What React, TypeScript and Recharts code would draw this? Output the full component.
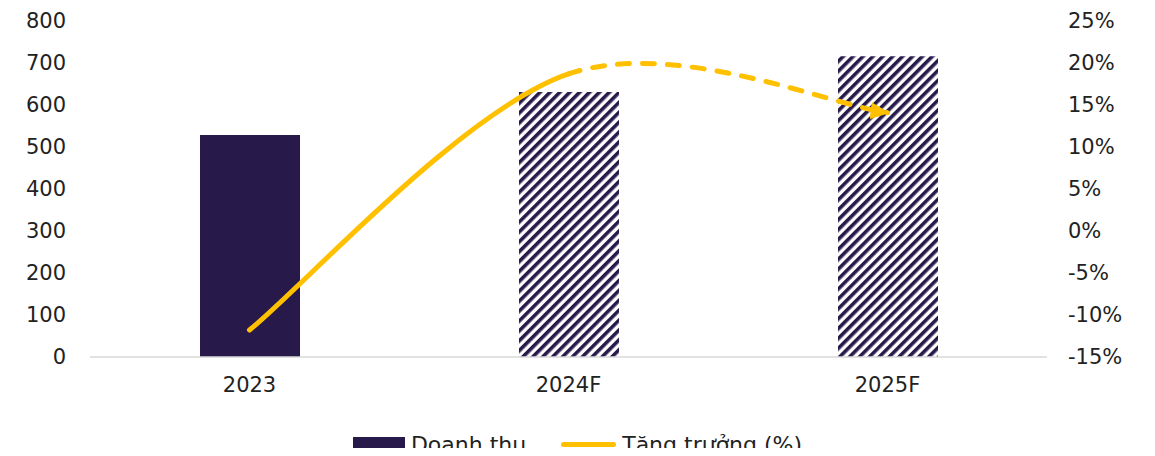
import React from 'react';
import { ComposedChart, Bar, Line, XAxis, YAxis, Legend, Cell } from 'recharts';

const categories = ['2023', '2024F', '2025F'];
const revenue = [527, 629, 714];
const growth = [-11.8, 18.6, 14.0];
const forecast = [false, true, true];

const revenueTicks = [0, 100, 200, 300, 400, 500, 600, 700, 800];
const growthTicks = [-15, -10, -5, 0, 5, 10, 15, 20, 25];

const revenueName = 'Doanh thu';
const growthName = 'Tăng trưởng (%)';

const NAVY = '#271A4A';
const GOLD = '#FFC000';
const FONT = '"DejaVu Sans", sans-serif';

const data = categories.map((c, i) => ({ name: c, revenue: revenue[i], growth: growth[i] }));

// Excel-style smoothed line, but only draws segments [from, to) so that
// the solid part and the dashed part share the same tangents.
const smoothPart = (from: number, to: number) => (context: any) => {
  let pts: [number, number][] = [];
  return {
    areaStart() {},
    areaEnd() {},
    lineStart() {
      pts = [];
    },
    lineEnd() {
      const n = pts.length;
      const get = (i: number) => pts[Math.max(0, Math.min(n - 1, i))];
      for (let i = from; i < to && i + 1 < n; i++) {
        const p0 = get(i - 1);
        const p1 = get(i);
        const p2 = get(i + 1);
        const p3 = get(i + 2);
        if (i === from) context.moveTo(p1[0], p1[1]);
        context.bezierCurveTo(
          p1[0] + (p2[0] - p0[0]) / 6,
          p1[1] + (p2[1] - p0[1]) / 6,
          p2[0] - (p3[0] - p1[0]) / 6,
          p2[1] - (p3[1] - p1[1]) / 6,
          p2[0],
          p2[1]
        );
      }
    },
    point(x: number, y: number) {
      pts.push([+x, +y]);
    },
  };
};

const solidCurve = smoothPart(0, 1);
const dashedCurve = smoothPart(1, 2);

const ChartLegend = () => (
  <div
    style={{
      display: 'flex',
      justifyContent: 'center',
      alignItems: 'center',
      height: 36,
      paddingTop: 12,
      boxSizing: 'border-box',
      fontFamily: FONT,
      fontSize: 22,
      color: '#222',
      whiteSpace: 'nowrap',
    }}
  >
    <span style={{ display: 'inline-block', width: 52, height: 14, background: NAVY, marginRight: 6 }} />
    <span style={{ marginRight: 35 }}>{revenueName}</span>
    <span
      style={{ display: 'inline-block', width: 55, height: 5, borderRadius: 3, background: GOLD, marginRight: 6 }}
    />
    <span>{growthName}</span>
  </div>
);

export default function App() {
  // the legend sits on the lower edge of the page, as in the source image
  return (
    <div style={{ width: 1139, height: 448, marginBottom: -8 }}>
      <ComposedChart width={1139} height={448} data={data} margin={{ top: 12, right: 0, left: 0, bottom: 0 }}>
        <defs>
          <pattern id="hatch" patternUnits="userSpaceOnUse" width="7" height="7" patternTransform="rotate(45)">
            <rect x="0" y="0" width="7" height="7" fill="#ffffff" />
            <rect x="0" y="0" width="3.6" height="7" fill={NAVY} />
          </pattern>
          <marker
            id="arrowHead"
            viewBox="0 0 18 16"
            refX="16"
            refY="8"
            markerWidth="3.8"
            markerHeight="3.4"
            orient="auto"
            markerUnits="strokeWidth"
          >
            <path d="M0,0 L18,8 L0,16 z" fill={GOLD} />
          </marker>
        </defs>
        <XAxis
          dataKey="name"
          height={63}
          axisLine={{ stroke: '#d9d9d9', strokeWidth: 1.5 }}
          tickLine={false}
          tickMargin={14}
          tick={{ fill: '#222', fontSize: 21, fontFamily: FONT }}
        />
        <YAxis
          yAxisId="left"
          width={82}
          domain={[0, 800]}
          ticks={revenueTicks}
          axisLine={false}
          tickLine={false}
          tickMargin={18}
          tick={{ fill: '#222', fontSize: 21, fontFamily: FONT }}
        />
        <YAxis
          yAxisId="right"
          orientation="right"
          width={100}
          domain={[-15, 25]}
          ticks={growthTicks}
          axisLine={false}
          tickLine={false}
          tickMargin={15}
          tickFormatter={(v: number) => `${v}%`}
          tick={{ fill: '#222', fontSize: 21, fontFamily: FONT, textAnchor: 'start' }}
        />
        <Legend verticalAlign="bottom" content={<ChartLegend />} />
        <Bar yAxisId="left" dataKey="revenue" name={revenueName} barSize={100} isAnimationActive={false}>
          {data.map((d, i) => (
            <Cell key={d.name} fill={forecast[i] ? 'url(#hatch)' : NAVY} />
          ))}
        </Bar>
        <Line
          yAxisId="right"
          dataKey="growth"
          name={growthName}
          type={solidCurve as any}
          stroke={GOLD}
          strokeWidth={5}
          strokeLinecap="round"
          dot={false}
          activeDot={false}
          isAnimationActive={false}
        />
        <Line
          yAxisId="right"
          dataKey="growth"
          legendType="none"
          type={dashedCurve as any}
          stroke={GOLD}
          strokeWidth={5}
          strokeLinecap="round"
          strokeDasharray="12 13"
          markerEnd="url(#arrowHead)"
          dot={false}
          activeDot={false}
          isAnimationActive={false}
        />
      </ComposedChart>
    </div>
  );
}
